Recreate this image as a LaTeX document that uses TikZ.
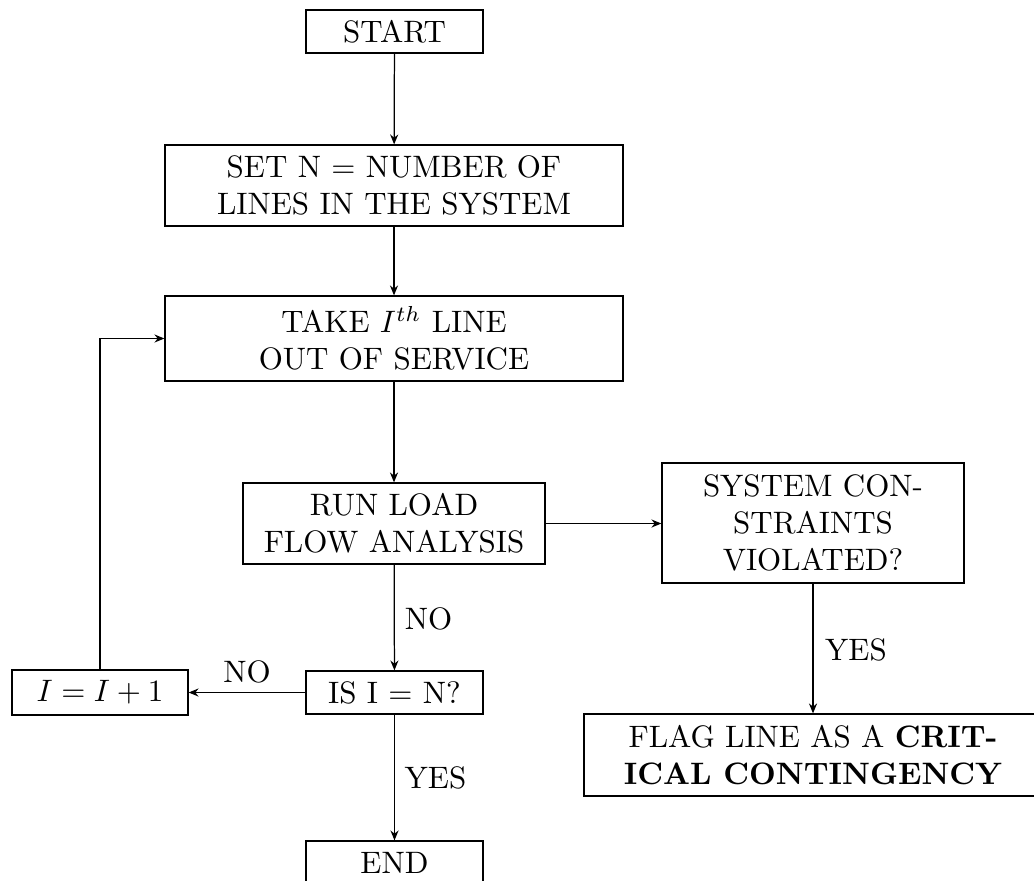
\documentclass[tikz,border=0pt]{standalone}
\usetikzlibrary{arrows.meta}
\newcommand\pxu{0.3226pt}
\begin{document}
\begin{tikzpicture}[x=0.3226pt,y=-0.3226pt,
  box/.style={draw, align=center, inner sep=0pt, line width=0.4pt},
  arr/.style={-{Stealth[length=3.2pt,width=2.6pt]}, line width=0.4pt},
  lbl/.style={inner sep=0pt}]
\useasboundingbox (0,0) rectangle (1034,880);
\node[box, minimum width=177*\pxu, minimum height=43*\pxu] (start) at (394.5,31.5) {START};
\node[box, minimum width=458*\pxu, minimum height=81*\pxu] (setn) at (394,185.5) {SET N $=$ NUMBER OF\\LINES IN THE SYSTEM};
\node[box, minimum width=458*\pxu, minimum height=85*\pxu] (take) at (394,338.5) {TAKE $I^{th}$ LINE\\OUT OF SERVICE};
\node[box, minimum width=302*\pxu, minimum height=81*\pxu] (run) at (394,523.5) {RUN LOAD\\FLOW ANALYSIS};
\node[box, minimum width=302*\pxu, minimum height=120*\pxu] (sys) at (813,523) {SYSTEM CON-\\STRAINTS\\VIOLATED?};
\node[box, minimum width=177*\pxu, minimum height=43*\pxu] (is) at (394.5,692.5) {IS I $=$ N?};
\node[box, minimum width=176*\pxu, minimum height=45*\pxu] (inc) at (100,692.5) {$I=I+1$};
\node[box, minimum width=458*\pxu, minimum height=82*\pxu] (flag) at (813,755) {FLAG LINE AS A \textbf{CRIT-}\\\textbf{ICAL CONTINGENCY}};
\node[box, minimum width=177*\pxu, minimum height=43*\pxu] (end) at (394.5,862.5) {END};

\node[lbl] (no1) at (428.5,618.5) {NO};
\node[lbl] (no2) at (247,671.5) {NO};
\node[lbl] (yes1) at (856,650) {YES};
\node[lbl] (yes2) at (435.5,777.5) {YES};

\draw[arr] (start) -- (setn);
\draw[arr] (setn) -- (take);
\draw[arr] (take) -- (run);
\draw[arr] (run.east) -- (run.east -| sys.west);
\draw[arr] (run) -- (is);
\draw[arr] (sys) -- (flag);
\draw[arr] (is) -- (inc);
\draw[arr] (is) -- (end);
\draw[arr] (inc.north) |- (take.west);
\end{tikzpicture}
\end{document}
